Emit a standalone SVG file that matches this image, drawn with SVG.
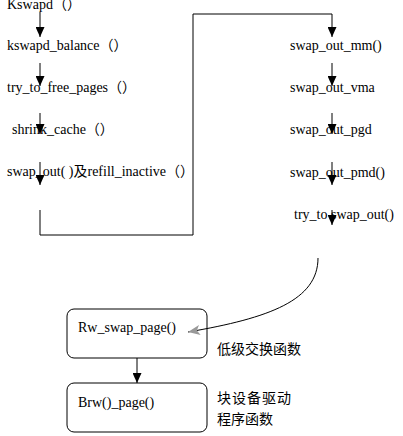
<svg xmlns="http://www.w3.org/2000/svg" width="403" height="436" viewBox="0 0 403 436">
<style>
text{font-family:"Liberation Serif","Times New Roman","Noto Sans CJK SC",serif;font-size:14px;fill:#000}
.cn{font-family:"Noto Sans CJK SC",sans-serif;font-size:14px}
.ln{stroke:#000;stroke-width:1;fill:none}
.box{stroke:#000;stroke-width:1;fill:#fff}
</style>
<defs>
<marker id="dn" markerWidth="9" markerHeight="10" refX="4.5" refY="10" orient="0" markerUnits="userSpaceOnUse" viewBox="0 0 9 10">
<path d="M0,0 L9,0 L4.5,10 Z" fill="#000"/>
</marker>
<marker id="gr" markerWidth="12" markerHeight="10" refX="12" refY="5" orient="auto" markerUnits="userSpaceOnUse" viewBox="0 0 12 10">
<path d="M0,0 L12,5 L0,10 L3,5 Z" fill="#999"/>
</marker>
</defs>
<g id="kswapd"><text x="7" y="9">Kswapd（）</text></g>
<g id="kswapd_balance"><text x="7" y="50">kswapd_balance（）</text></g>
<g id="try_to_free_pages"><text x="7" y="92">try_to_free_pages（）</text></g>
<g id="shrink_cache"><text x="12" y="134">shrink_cache（）</text></g>
<g id="swap_out"><text x="7" y="176">swap_out( )及refill_inactive（）</text></g>
<g id="swap_out_mm"><text x="290" y="50">swap_out_mm()</text></g>
<g id="swap_out_vma"><text x="290" y="92">swap_out_vma</text></g>
<g id="swap_out_pgd"><text x="290" y="134">swap_out_pgd</text></g>
<g id="swap_out_pmd"><text x="290" y="177">swap_out_pmd()</text></g>
<g id="try_to_swap_out"><text x="294" y="219">try_to swap_out()</text></g>
<g id="rw_swap_page">
<rect class="box" x="67" y="309" width="140" height="49" rx="7"/>
<text x="78" y="332">Rw_swap_page()</text>
<text class="cn" x="217" y="354">低级交换函数</text>
</g>
<g id="brw_page">
<rect class="box" x="67" y="383" width="140" height="49" rx="7"/>
<text x="78" y="407">Brw()_page()</text>
<text class="cn" x="217" y="403" letter-spacing="1">块设备驱动</text>
<text class="cn" x="217" y="424">程序函数</text>
</g>
<g id="connectors">
<line class="ln" x1="40" y1="12" x2="40" y2="37" marker-end="url(#dn)"/>
<line class="ln" x1="40" y1="63" x2="40" y2="86" marker-end="url(#dn)"/>
<line class="ln" x1="40" y1="113" x2="40" y2="134" marker-end="url(#dn)"/>
<line class="ln" x1="40" y1="162" x2="40" y2="185" marker-end="url(#dn)"/>
<polyline class="ln" points="40,210 40,235 193,235 193,14 332,14 332,37" marker-end="url(#dn)"/>
<line class="ln" x1="332" y1="63" x2="332" y2="86" marker-end="url(#dn)"/>
<line class="ln" x1="332" y1="113" x2="332" y2="134" marker-end="url(#dn)"/>
<line class="ln" x1="332" y1="162" x2="332" y2="185" marker-end="url(#dn)"/>
<line class="ln" x1="332" y1="210" x2="332" y2="225" marker-end="url(#dn)"/>
<path class="ln" d="M318,258 C318,300 270,318 188,332" marker-end="url(#gr)"/>
<line class="ln" x1="137" y1="358" x2="137" y2="383" marker-end="url(#dn)"/>
</g>
</svg>
